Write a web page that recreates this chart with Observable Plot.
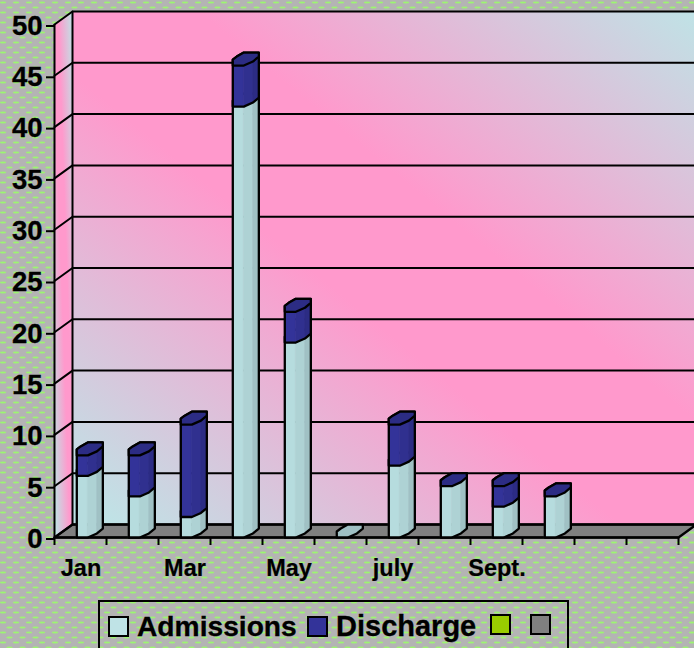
<!DOCTYPE html>
<html>
<head>
<meta charset="utf-8">
<script src="https://cdn.jsdelivr.net/npm/d3@7"></script>
<script src="https://cdn.jsdelivr.net/npm/@observablehq/plot@0.6"></script>
<style>
html,body{margin:0;padding:0;width:694px;height:648px;overflow:hidden;}
body{position:relative;background-color:#b4b4b4;
background-image:url("data:image/svg+xml,%3Csvg xmlns='http://www.w3.org/2000/svg' width='13' height='10'%3E%3Cdefs%3E%3Cfilter id='b'%3E%3CfeGaussianBlur stdDeviation='.6'/%3E%3C/filter%3E%3C/defs%3E%3Cg fill='%2399ff66' fill-opacity='.85' filter='url(%23b)'%3E%3Cellipse cx='3' cy='2.5' rx='3.2' ry='1'/%3E%3Cellipse cx='9.5' cy='7.5' rx='3.2' ry='1'/%3E%3C/g%3E%3C/svg%3E");}
svg{display:block;background:transparent !important;overflow:visible;}
#legend{position:absolute;left:98px;top:600px;width:471px;height:60px;border:2px solid #000;box-sizing:border-box;font:bold 28px "Liberation Sans",Arial,sans-serif;color:#000;}
#legend i{position:absolute;width:17px;height:17px;border:2px solid #000;}
#legend span{position:absolute;line-height:32px;white-space:nowrap;-webkit-text-stroke:.3px #000;}
</style>
</head>
<body>
<div id="chart"></div>
<div id="legend"></div>
<script>
const months = ["Jan","Feb","Mar","Apr","May","Jun","july","Aug","Sept.","Oct","Nov","Dec"];
const tickLabels = ["Jan","","Mar","","May","","july","","Sept.","","",""];
const admissions = [6,4,2,42,19,0,7,5,3,4];
const discharge  = [2,4,9,4,3,0,4,0,2,0];
const yTicks = [0,5,10,15,20,25,30,35,40,45,50];
const seriesNames = ["Admissions","Discharge","",""];
const seriesColors = ["#bfe3e6","#333399","#99cc00","#808080"];

// depth of the 3-D box in data units
const depthX = 18/52, depthY = 13/10.26;
const P = (m, v, d = 0) => ({x: m + depthX*d, y: v + depthY*d});

// bar cross-section: [month offset, depth]
const barLeft = 22.3/52;
const section = [[0,0],[.212,0],[.28,.31],[.262,.69],[.154,1],[-.135,1],[-.163,.69],[-.16,.46]];
const shades = {
  a:["#b6dcde","#aed2d4","#a0c1c4"],
  d:["#333399","#30308f","#2c2c84"]
};

const polys = [];
let id = 0;
function poly(points, fill, stroke){
  const k = id++;
  for (const p of points) polys.push({...p, k, fill, stroke: stroke||fill});
}
function sec(i, v){
  return section.map(([u,d]) => P(i + barLeft + u, v, d));
}
function segment(i, lo, hi, sh){
  const L = sec(i, lo), H = sec(i, hi);
  for (let n = 0; n < 3; n++){
    poly([L[n],L[n+1],H[n+1],H[n]], sh[n], sh[n]);
  }
  poly([L[0],L[1],L[2],L[3],H[3],H[4],H[5],H[6],H[7],H[0]], "none", "#000");
}
admissions.forEach((a,i) => {
  const d = discharge[i];
  if (a > 0) segment(i, 0, a, shades.a);
  if (a + d > 0){
    if (d > 0) segment(i, a, a + d, shades.d);
    poly(sec(i, a + d), "#2c2c84", "#000");
  } else {
    poly(sec(i, 0), "#9fc0c4", "#000");
  }
});

const backWall = [P(0,0,1),P(12,0,1),P(12,50,1),P(0,50,1)];
const sideWall = [P(0,0,0),P(0,0,1),P(0,50,1),P(0,50,0)];
const floor = [P(0,0,0),P(12,0,0),P(12,0,1),P(0,0,1)];
const grid = yTicks.flatMap(v => [P(0,v,0),P(0,v,1),P(12,v,1)].map(p => ({...p, v})));

function defs(){
  const s = d3.create("svg:defs");
  for (const gid of ["wall","side"]){
    const g = s.append("linearGradient").attr("id",gid).attr("x1",0).attr("y1",1).attr("x2",1).attr("y2",0);
    g.append("stop").attr("offset",.03).attr("stop-color","#bfe3e6");
    g.append("stop").attr("offset",.44).attr("stop-color","#ff99cc");
    g.append("stop").attr("offset",.6).attr("stop-color","#ff99cc");
    g.append("stop").attr("offset",1).attr("stop-color","#bfe3e6");
  }
  return s.node();
}

const chart = Plot.plot({
  width:694, height:648,
  marginLeft:54, marginRight:16, marginTop:24, marginBottom:111,
  x:{domain:[0,12], axis:null},
  y:{domain:[0,50], axis:null},
  style:{background:"transparent", overflow:"visible"},
  marks:[
    defs,
    Plot.line(backWall,{x:"x",y:"y",fill:"url(#wall)",stroke:"none",curve:"linear-closed"}),
    Plot.line(sideWall,{x:"x",y:"y",fill:"url(#side)",stroke:"none",curve:"linear-closed"}),
    Plot.line(floor,{x:"x",y:"y",fill:"#808080",stroke:"#000",strokeWidth:2.4,curve:"linear-closed"}),
    Plot.line(grid,{x:"x",y:"y",z:"v",stroke:"#000",strokeWidth:2,curve:"linear"}),
    Plot.line([P(0,0,1),P(0,50,1)],{x:"x",y:"y",stroke:"#000",strokeWidth:2}),
    Plot.axisY({ticks:yTicks,tickSize:8,tickPadding:4,fontSize:27.5,fontWeight:"bold",fontFamily:"Liberation Sans",fill:"#000",stroke:"#000",strokeWidth:2,textStroke:"#000",textStrokeWidth:.3,dy:1.5,label:null}),
    Plot.ruleX([0],{y1:0,y2:50,stroke:"#000",strokeWidth:2}),
    Plot.ruleY([0],{x1:0,x2:12,stroke:"#000",strokeWidth:2}),
    Plot.axisX({ticks:d3.range(0,13),tickSize:8,tickFormat:()=>"",stroke:"#000",strokeWidth:2,label:null}),
    Plot.axisX({ticks:d3.range(0,12).map(i=>i+.5),tickSize:0,tickPadding:22,tickFormat:d=>tickLabels[Math.floor(d)],fontSize:23.5,fontWeight:"bold",fontFamily:"Liberation Sans",fill:"#000",textStroke:"#000",textStrokeWidth:.2,dx:.5,label:null}),
    Plot.line(polys,{x:"x",y:"y",z:"k",fill:d=>d.fill,stroke:d=>d.stroke,strokeWidth:d=>d.stroke==="#000"?2.3:.6,curve:"linear-closed"})
  ],
  color:{type:"identity"}
});
document.getElementById("chart").append(chart);

const lg = document.getElementById("legend");
const swatchLeft = [8,207,390,430], swatchTop = [14,14,12,12], textLeft = [37,236], textSize = [28.2,29];
seriesNames.forEach((n,i)=>{
  const sw = document.createElement("i");
  sw.style.cssText = `left:${swatchLeft[i]}px;top:${swatchTop[i]}px;background:${seriesColors[i]}`;
  lg.append(sw);
  if(n){
    const t = document.createElement("span");
    t.textContent = n;
    t.style.cssText = `left:${textLeft[i]}px;top:8px;font-size:${textSize[i]}px`;
    lg.append(t);
  }
});
</script>
</body>
</html>
